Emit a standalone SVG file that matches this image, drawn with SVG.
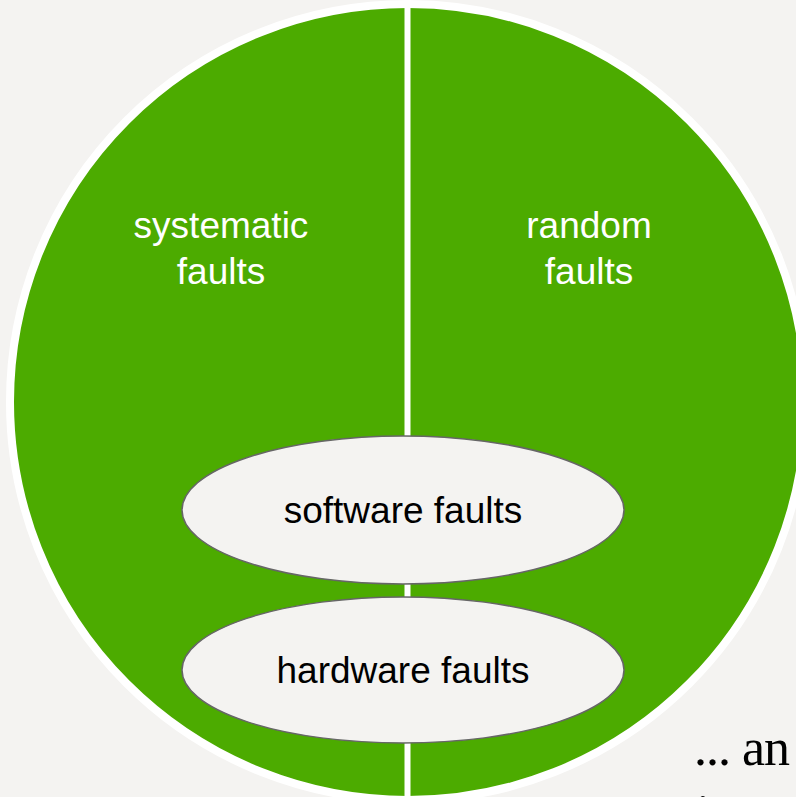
<svg xmlns="http://www.w3.org/2000/svg" width="796" height="797" viewBox="0 0 796 797">
<style>
.lbl{font-family:"Liberation Sans",Arial,sans-serif;font-size:37px;text-anchor:middle}
.w{fill:#ffffff}
.k{fill:#000000}
.oval{fill:#f4f3f1;stroke:#666666;stroke-width:1.5}
.serif{font-family:"Liberation Serif","Times New Roman",serif;font-size:52px;fill:#000000}
</style>
<rect x="0" y="0" width="796" height="797" fill="#f4f3f1"/>
<g id="circle">
<circle cx="408" cy="402" r="398" fill="#4cab00" stroke="#ffffff" stroke-width="8"/>
<rect x="404.5" y="0" width="6" height="797" fill="#ffffff"/>
</g>
<g id="systematic">
<text class="lbl w" x="221" y="238">systematic</text>
<text class="lbl w" x="221" y="284">faults</text>
</g>
<g id="random">
<text class="lbl w" x="589" y="238">random</text>
<text class="lbl w" x="589" y="284">faults</text>
</g>
<g id="connectors"></g>
<g id="software">
<ellipse class="oval" cx="403" cy="510" rx="221" ry="74"/>
<text class="lbl k" x="403" y="523">software faults</text>
</g>
<g id="hardware">
<ellipse class="oval" cx="403" cy="670" rx="221" ry="73"/>
<text class="lbl k" x="403" y="683">hardware faults</text>
</g>
<g id="caption">
<text class="serif" x="694" y="765" letter-spacing="-1">... an</text>
<text class="serif" x="696" y="831">i</text>
</g>
</svg>
